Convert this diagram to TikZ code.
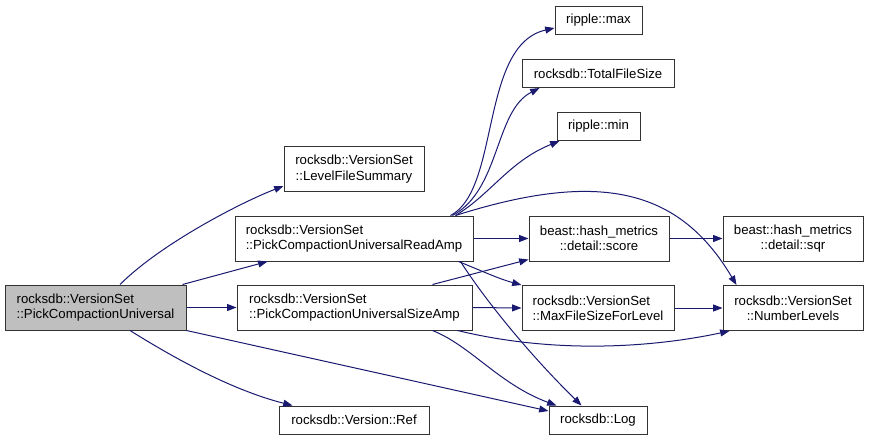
\documentclass[tikz,border=0pt]{standalone}
\usepackage{fontspec}
\setmainfont{Liberation Sans}
\usetikzlibrary{arrows.meta, calc}
\definecolor{edgeblue}{HTML}{191970}
\definecolor{mainfill}{HTML}{BFBFBF}

\begin{document}
\begin{tikzpicture}[
    x=0.75pt, y=-0.75pt,
    box/.style={rectangle, draw=black!80, line width=0.75pt, fill=white, inner sep=0pt,
                minimum height=33.75pt, font=\fontsize{9.9}{11.4}\selectfont, align=left},
    cbox/.style={box, align=center},
    lbox/.style={box, minimum height=21pt},
    arrow/.style={-{Triangle[length=7pt, width=5.2pt]}, draw=edgeblue, line width=0.75pt}
  ]
    \useasboundingbox (0,0) rectangle (869,440);

    \node[box, fill=mainfill, minimum width=135.75pt] (pcu) at (95.5,307.5) {rocksdb::VersionSet\\::PickCompactionUniversal};
    \node[cbox, minimum width=105pt]   (lfs)   at (354,169)   {rocksdb::VersionSet\\::LevelFileSummary};
    \node[box, minimum width=178.5pt]  (pcra)  at (354,238.5) {rocksdb::VersionSet\\::PickCompactionUniversalReadAmp};
    \node[box, minimum width=176.25pt] (pcsa)  at (354.5,307.5) {rocksdb::VersionSet\\::PickCompactionUniversalSizeAmp};
    \node[lbox, minimum width=112.5pt] (vref)  at (354,420)   {rocksdb::Version::Ref};

    \node[lbox, minimum width=65.25pt] (rmax)  at (598.5,20)  {ripple::max};
    \node[lbox, minimum width=114pt]   (tfs)   at (598,73.5)  {rocksdb::TotalFileSize};
    \node[lbox, minimum width=62.25pt] (rmin)  at (598.5,126.5) {ripple::min};
    \node[cbox, minimum width=105pt]   (score) at (599,238.5) {beast::hash\_metrics\\::detail::score};
    \node[box, minimum width=114pt]    (mfs)   at (598,308)   {rocksdb::VersionSet\\::MaxFileSizeForLevel};
    \node[lbox, minimum width=73.5pt]  (log)   at (598,420)   {rocksdb::Log};

    \node[cbox, minimum width=105pt]   (sqr)   at (793,238.5) {beast::hash\_metrics\\::detail::sqr};
    \node[cbox, minimum width=105pt]   (nlev)  at (793,308)   {rocksdb::VersionSet\\::NumberLevels};

    % calls from PickCompactionUniversal
    \draw[arrow] ($(pcu.north)+(24.5,0)$) .. controls +(40,-40) and +(-44,17) .. ($(lfs.west)+(0,17)$);
    \draw[arrow] ($(pcu.north east)+(-4,0)$) -- ($(pcra.south west)+(33,0)$);
    \draw[arrow] (pcu.east) -- (pcsa.west);
    \draw[arrow] ($(pcu.south)+(34.5,0)$) .. controls +(40,25) and +(-63,-16) .. ($(vref.north west)+(14,0)$);
    \draw[arrow] (pcu.south east) -- ($(log.west)+(0,-9)$);

    % calls from PickCompactionUniversalReadAmp
    \draw[arrow] ($(pcra.north east)+(-23,0)$) .. controls +(50,-26) and +(-75,17) .. ($(rmax.west)+(0,8)$);
    \draw[arrow] ($(pcra.north east)+(-21,0)$) .. controls +(48,-26) and +(-45,23) .. ($(tfs.south west)+(18,0)$);
    \draw[arrow] ($(pcra.north east)+(-18,0)$) .. controls +(35,-21) and +(-50,20) .. ($(rmin.south west)+(3,0)$);
    \draw[arrow] (pcra.east) -- (score.west);
    \draw[arrow] ($(pcra.north east)+(-18,0)$) .. controls +(145,-46) and +(-57,-96) .. ($(nlev.north west)+(14,0)$);
    \draw[arrow] ($(pcra.south east)+(-15,0)$) .. controls +(27,11) and +(-22,-6) .. (mfs.north west);
    \draw[arrow] ($(pcra.south east)+(-13,0)$) .. controls +(25,39) and +(-52,-51) .. ($(log.north west)+(33,0)$);

    % calls from PickCompactionUniversalSizeAmp
    \draw[arrow] ($(pcsa.north east)+(-40,0)$) -- ($(score.south west)+(0,-2)$);
    \draw[arrow] (pcsa.east) -- (mfs.west);
    \draw[arrow] ($(pcsa.south east)+(-15,0)$) .. controls +(103,25) and +(-70,15) .. ($(nlev.south west)+(7,0)$);
    \draw[arrow] ($(pcsa.south east)+(-40,0)$) .. controls +(38,15) and +(-57,-21) .. ($(log.north west)+(8,0)$);

    \draw[arrow] (score.east) -- (sqr.west);
    \draw[arrow] (mfs.east) -- (nlev.west);
  \end{tikzpicture}
\end{document}
